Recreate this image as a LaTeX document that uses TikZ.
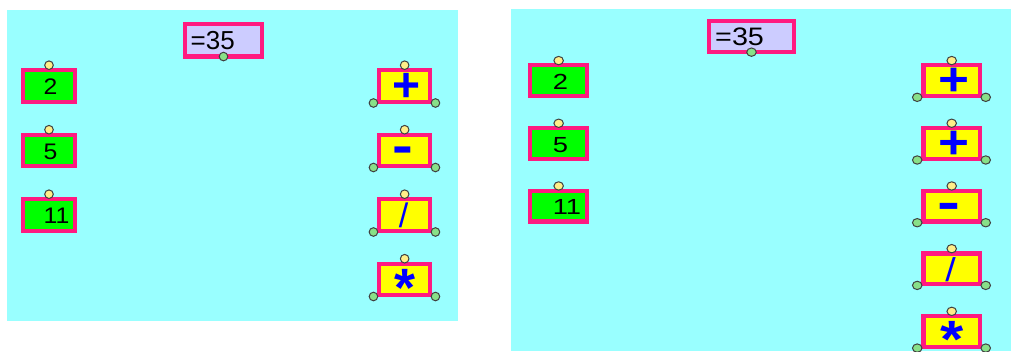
\documentclass[tikz,border=0pt]{standalone}
\usepackage{fontspec}
\setmainfont{Liberation Sans}
\definecolor{bgcyan}{HTML}{99FFFF}
\definecolor{rim}{HTML}{FF1A80}
\definecolor{numgreen}{HTML}{00FF00}
\definecolor{opyellow}{HTML}{FFFF00}
\definecolor{lav}{HTML}{CCCCFF}
\definecolor{dotyellow}{HTML}{FFEE88}
\definecolor{dotgreen}{HTML}{88E088}
\definecolor{dotline}{HTML}{404040}
\definecolor{opblue}{HTML}{0000FF}
\tikzset{
  box/.style={rectangle, draw=rim, line width=4.2pt, inner sep=0pt, outer sep=0pt},
  numbox/.style={box, fill=numgreen, minimum width=51.7pt, minimum height=31.6pt},
  opbox/.style={box, fill=opyellow, minimum width=51pt, minimum height=31.6pt},
  resbox/.style={box, fill=lav, minimum width=77.3pt, minimum height=32.4pt},
  dot/.style={circle, draw=dotline, line width=1pt, minimum size=8.6pt, inner sep=0pt},
  ydot/.style={dot, fill=dotyellow},
  gdot/.style={dot, fill=dotgreen},
  numtext/.style={anchor=base west, inner sep=0pt, font=\fontsize{22.5}{23}\selectfont},
  restext/.style={anchor=base west, inner sep=0pt, font=\fontsize{26}{26}\selectfont},
  optext/.style={anchor=base, inner sep=0pt, text=opblue}
}
\newcommand{\panelcontent}[2]{%
  % result box
  \node[resbox] (#1res) at (223.5,40.35) {};
  \node[restext] (#1rest) at (190.5,49.7) {=35};
  \node[gdot] (#1resd) at (#1res.south) {};
  % number boxes
  \foreach \i/\v in {1/2,2/5,3/11}{
    \pgfmathsetmacro{\yc}{85.9+64.5*(\i-1)}
    \node[numbox] (#1n\i) at (49,\yc) {};
    \node[numtext] (#1nt\i) at (43.5,\yc+9) {\scalebox{1.1}[1]{\v}};
    \node[ydot] (#1nd\i) at ([yshift=4.9pt]#1n\i.north) {};
  }
  % operator boxes
  \foreach \i/\o/\f/\dx/\dy in {#2}{
    \pgfmathsetmacro{\yc}{85.9+64.5*(\i-1)}
    \node[opbox] (#1o\i) at (404.65,\yc) {};
    \node[optext, font=\f] (#1ot\i) at (404.65+\dx,\yc+\dy) {\o};
    \node[ydot] (#1otd\i) at ([yshift=4.9pt]#1o\i.north) {};
    \node[gdot] (#1old\i) at ([xshift=-5.7pt,yshift=-1.3pt]#1o\i.south west) {};
    \node[gdot] (#1ord\i) at ([xshift=5.3pt,yshift=-1.3pt]#1o\i.south east) {};
  }
}
\begin{document}
\begin{tikzpicture}[x=1pt,y=-1pt]
\useasboundingbox (0,0) rectangle (1011,351);
\fill[white] (0,0) rectangle (1011,351);
% left panel
\fill[bgcyan] (7,10) rectangle (457.7,320.7);
\panelcontent{L}{1/+/\bfseries\fontsize{48}{48}\selectfont/2/15.4, 2/\scalebox{1.2}[1]{-}/\bfseries\fontsize{52}{52}\selectfont/-2/13.4, 3/\slash/\fontsize{34}{34}\selectfont/-1/13, 4/*/\bfseries\fontsize{54}{54}\selectfont/0/27}
% right panel
\fill[bgcyan] (511,9) rectangle (1011,351);
\begin{scope}[shift={(504.5,-2.8)}, xscale=1.105, yscale=0.972, transform shape]
\panelcontent{R}{1/+/\bfseries\fontsize{48}{48}\selectfont/2/15.4, 2/+/\bfseries\fontsize{48}{48}\selectfont/2/15.4, 3/\scalebox{1.2}[1]{-}/\bfseries\fontsize{52}{52}\selectfont/-2/13.4, 4/\slash/\fontsize{34}{34}\selectfont/-1/13, 5/*/\bfseries\fontsize{54}{54}\selectfont/0/27}
\end{scope}
\end{tikzpicture}
\end{document}
